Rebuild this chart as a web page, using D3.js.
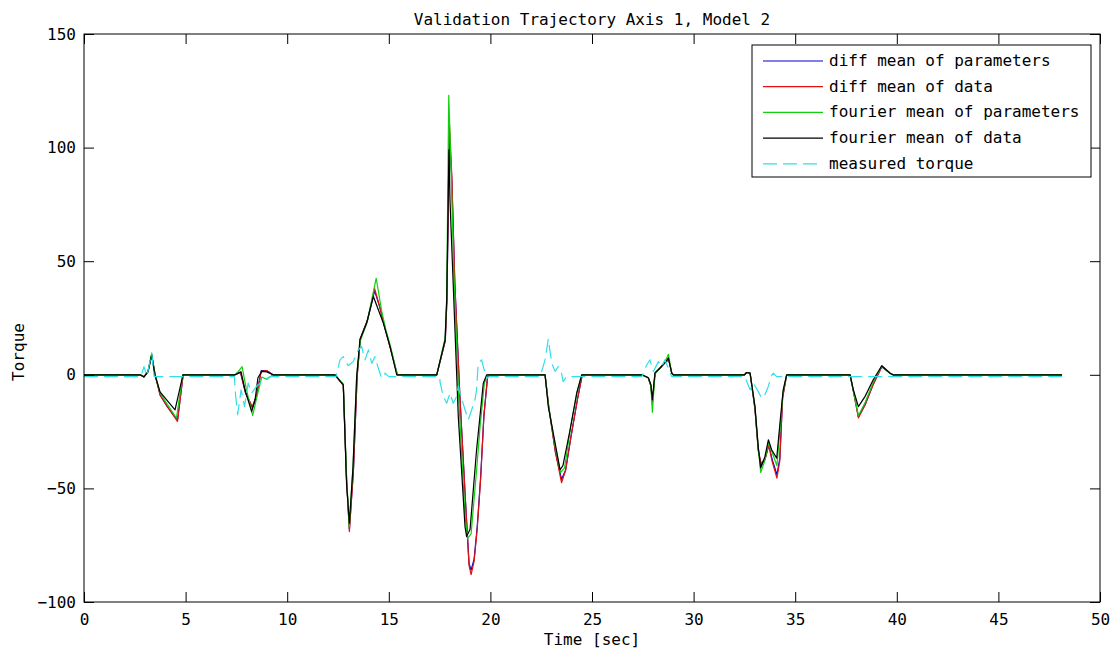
<!DOCTYPE html>
<html>
<head>
<meta charset="utf-8">
<script src="https://cdn.jsdelivr.net/npm/d3@7"></script>
<style>
  html, body { margin: 0; padding: 0; background: #ffffff; }
  svg { display: block; }
  text { font-family: "DejaVu Sans Mono", "Liberation Mono", monospace; fill: #000; }
</style>
</head>
<body>
<svg id="chart" width="1118" height="661"></svg>
<script>
// Axis ticks
const xTicks = [0, 5, 10, 15, 20, 25, 30, 35, 40, 45, 50];
const yTicks = [-100, -50, 0, 50, 100, 150];

// Series: [time (s), torque]
const diffMeanParameters = [
  [0,0],[2.76,0],[2.95,-0.9],[3.15,1.5],[3.33,8.6],[3.5,0],[3.75,-9],[4.1,-14],[4.6,-20],[4.88,0],
  [7.43,0],[7.7,1.2],[7.95,-8],[8.28,-14.5],[8.5,-9],[8.72,1.8],[9.0,1.8],[9.3,0],
  [12.35,0],[12.76,-4.5],[12.92,-46],[13.06,-68],[13.26,-42],[13.44,-1],[13.6,16],[13.95,24],[14.3,37],[14.55,30],[14.8,21],[15.1,11],[15.42,0],
  [17.36,0],[17.78,15],[17.86,33],[17.98,105],[18.1,86],[18.25,40],[18.5,-10],[18.8,-60],[18.95,-83],[19.05,-86],[19.2,-81],[19.35,-67],[19.52,-45],[19.68,-18],[19.86,-1],[19.95,0],
  [22.69,0],[22.87,-14],[23.2,-34],[23.5,-46],[23.7,-42],[23.97,-27],[24.3,-10],[24.52,0],
  [27.45,0],[27.77,-1.3],[27.9,-5],[27.97,-12],[28.1,0.5],[28.35,3],[28.66,6],[28.78,6.5],[28.93,0.7],[29.0,0],
  [32.5,0],[32.61,1],[32.78,0.7],[33.02,-15],[33.18,-33],[33.32,-40],[33.52,-37],[33.7,-31],[33.86,-37],[34.1,-44],[34.24,-37],[34.38,-10],[34.58,0],
  [37.70,0],[37.86,-7],[38.11,-18.5],[38.45,-13],[38.85,-4],[39.26,3.5],[39.67,0.7],[39.81,0],[48.13,0]
];

const diffMeanData = [
  [0,0],[2.76,0],[2.95,-0.9],[3.15,1.5],[3.33,8.5],[3.5,0],[3.75,-9],[4.1,-14],[4.6,-20.5],[4.88,0],
  [7.43,0],[7.7,1],[7.95,-8],[8.28,-14],[8.5,-9],[8.72,1.5],[9.0,1.8],[9.3,0],
  [12.35,0],[12.76,-4.5],[12.92,-46],[13.06,-69],[13.26,-42],[13.44,-1],[13.6,16],[13.95,24],[14.3,38],[14.55,30],[14.8,21],[15.1,11],[15.42,0],
  [17.36,0],[17.78,15],[17.86,33],[17.98,111],[18.1,88],[18.25,40],[18.5,-10],[18.8,-60],[18.95,-84],[19.05,-88],[19.2,-82],[19.35,-68],[19.52,-46],[19.68,-18],[19.86,-1],[19.95,0],
  [22.69,0],[22.87,-14],[23.2,-34],[23.5,-47.5],[23.7,-42],[23.97,-27],[24.3,-10],[24.52,0],
  [27.45,0],[27.77,-1.3],[27.9,-5],[27.97,-13],[28.1,0.5],[28.35,3],[28.66,6],[28.78,6.5],[28.93,0.7],[29.0,0],
  [32.5,0],[32.61,1],[32.78,0.7],[33.02,-15],[33.18,-33],[33.32,-39],[33.52,-37],[33.7,-31],[33.86,-38],[34.1,-45.5],[34.24,-38],[34.38,-10],[34.58,0],
  [37.70,0],[37.86,-7],[38.11,-19],[38.45,-13],[38.85,-4],[39.26,3.5],[39.67,0.7],[39.81,0],[48.13,0]
];

const fourierMeanParameters = [
  [0,0],[2.76,0],[2.95,-0.9],[3.15,1.5],[3.33,9.5],[3.5,0],[3.75,-8],[4.1,-13],[4.55,-19],[4.86,0],
  [7.43,0],[7.6,1.5],[7.78,3.6],[7.98,-6],[8.3,-18],[8.5,-10],[8.75,-1],[9.0,-2],[9.3,0],
  [12.35,0],[12.76,-4],[12.92,-44],[13.05,-67],[13.24,-40],[13.42,-0.5],[13.6,15],[13.93,23],[14.38,42.5],[14.65,28],[14.85,20],[15.1,12],[15.42,0],
  [17.36,0],[17.77,16],[17.85,34],[17.95,123],[18.05,95],[18.2,45],[18.45,-12],[18.75,-62],[18.88,-72],[19.05,-70],[19.32,-42],[19.5,-22],[19.7,-4],[19.85,0],
  [22.69,0],[22.85,-13],[23.2,-32],[23.45,-43],[23.65,-41],[23.95,-23],[24.28,-7],[24.5,0],
  [27.45,0],[27.77,-1.3],[27.9,-5],[27.97,-16.5],[28.1,0.5],[28.35,3],[28.66,7],[28.76,9],[28.92,0.7],[29.0,0],
  [32.5,0],[32.61,1],[32.78,0.7],[33.02,-14],[33.18,-32],[33.3,-43],[33.5,-38],[33.68,-30],[33.86,-34],[34.1,-40],[34.25,-24],[34.41,-7],[34.58,0],
  [37.70,0],[37.86,-7],[38.11,-18],[38.45,-12],[38.85,-3],[39.26,4],[39.67,0.7],[39.81,0],[48.13,0]
];

const fourierMeanData = [
  [0,0],[2.76,0],[2.95,-0.9],[3.15,1.3],[3.33,8.8],[3.49,0],[3.74,-7.5],[4.48,-15.4],[4.87,0],
  [7.43,0],[7.73,1.3],[7.92,-6.6],[8.25,-16.2],[8.42,-11],[8.56,-1.3],[8.75,1.5],[9.0,1.3],[9.3,0],
  [12.35,0],[12.76,-4.4],[12.92,-47.7],[13.06,-65.3],[13.24,-40.4],[13.42,-0.7],[13.58,15.4],[13.91,22.8],[14.24,34.5],[14.73,22.8],[15.06,12.5],[15.39,0],
  [17.36,0],[17.77,15.4],[17.85,33],[17.96,99],[18.01,77],[18.42,-18.4],[18.75,-66.8],[18.83,-71.2],[19.0,-68],[19.32,-33],[19.65,-3.7],[19.82,0],
  [22.69,0],[22.85,-14],[23.43,-41.8],[23.57,-40],[23.92,-24.2],[24.25,-8],[24.49,0],
  [27.45,0],[27.77,-1.3],[27.9,-4.4],[27.97,-11],[28.1,0.9],[28.35,3],[28.64,5.8],[28.76,7.5],[28.92,0.7],[29.0,0],
  [32.5,0],[32.61,1],[32.78,0.7],[33.02,-14],[33.18,-31.6],[33.3,-41],[33.51,-36],[33.68,-28.6],[33.84,-33],[34.09,-36.7],[34.25,-21.3],[34.41,-6.6],[34.58,0],
  [37.70,0],[37.86,-6.6],[38.11,-14],[38.44,-9.5],[38.84,-2.2],[39.26,4],[39.67,0.7],[39.81,0],[48.13,0]
];

const measuredTorque = [
  [0,-0.8],[2.8,-0.8],[2.95,3.6],[3.1,-0.5],[3.33,9.7],[3.45,-0.8],
  [7.4,-0.8],[7.45,-8],[7.56,-17.6],[7.73,-6.6],[7.9,-14],[8.08,-3.7],[8.25,-8],[8.5,-5],[8.83,-2.5],[9.15,-0.8],
  [12.4,-0.8],[12.6,6.6],[12.76,8],[13.0,4],[13.25,5.8],[13.5,11],[13.66,12.5],[13.83,6.6],[14.0,11],[14.16,5],[14.32,8],[14.48,3],[14.65,-1.5],[14.81,0.7],[15.0,-0.8],
  [17.5,-0.8],[17.53,-3.7],[17.68,-9.5],[17.85,-12.5],[18.01,-8],[18.17,-12.5],[18.34,-9.5],[18.42,-5],[18.5,-8],[18.75,-15.4],[18.91,-19.8],[19.08,-15.4],[19.24,-11],[19.32,-6.6],[19.4,5],[19.57,6.6],[19.65,3.6],[19.82,-1.5],[19.95,-0.8],
  [22.45,-0.8],[22.69,6.6],[22.85,15.8],[23.02,5],[23.18,1.5],[23.34,3.6],[23.5,0.7],[23.58,-3],[23.75,-0.8],
  [27.45,-0.8],[27.7,4.4],[27.85,6.6],[28.02,1.5],[28.27,5.8],[28.43,3.6],[28.59,6.6],[28.75,3],[28.92,-0.8],
  [32.52,-0.8],[32.78,-6.6],[32.94,-3.7],[33.18,-7.3],[33.35,-10.3],[33.51,-8.8],[33.68,-5],[33.84,-0.2],[33.92,0.7],[34.09,-0.8],[48.13,-0.8]
];

const seriesNames = [
  "diff mean of parameters",
  "diff mean of data",
  "fourier mean of parameters",
  "fourier mean of data",
  "measured torque"
];
const seriesColors = ["#0000d0", "#e01010", "#10d010", "#000000", "#30e0e8"];
const seriesData = [diffMeanParameters, diffMeanData, fourierMeanParameters, fourierMeanData, measuredTorque];
const seriesDash = [null, null, null, null, "14,6"];

const svg = d3.select("#chart");
const W = 1118, H = 661;
const margin = { left: 84, right: 18, top: 34, bottom: 59 };
const x0 = margin.left, x1 = W - margin.right;
const y0 = margin.top, y1 = H - margin.bottom;

const x = d3.scaleLinear().domain([0, 50]).range([x0, x1]);
const y = d3.scaleLinear().domain([-100, 150]).range([y1, y0]);

const tickLen = 10;

// Lines, clipped to the axes box
svg.append("clipPath").attr("id", "plotClip")
  .append("rect").attr("x", x0).attr("y", y0).attr("width", x1 - x0).attr("height", y1 - y0);

const line = d3.line().x(d => x(d[0])).y(d => y(d[1]));
const plot = svg.append("g").attr("clip-path", "url(#plotClip)");
seriesData.forEach((data, i) => {
  plot.append("path")
    .datum(data)
    .attr("d", line)
    .attr("fill", "none")
    .attr("stroke", seriesColors[i])
    .attr("stroke-width", 1.2)
    .attr("stroke-linejoin", "round")
    .attr("stroke-dasharray", seriesDash[i]);
});

// Axes: ticks point inward on all four sides
const axisBottom = d3.axisBottom(x).tickValues(xTicks).tickSize(-tickLen).tickPadding(12).tickFormat(d3.format("d"));
const axisTop = d3.axisTop(x).tickValues(xTicks).tickSize(-tickLen).tickFormat("");
const axisLeft = d3.axisLeft(y).tickValues(yTicks).tickSize(-tickLen).tickPadding(8).tickFormat(d3.format("d"));
const axisRight = d3.axisRight(y).tickValues(yTicks).tickSize(-tickLen).tickFormat("");

function styleAxis(g) {
  g.select(".domain").remove();
  g.selectAll(".tick line").attr("stroke", "#000").attr("stroke-width", 1);
  g.selectAll(".tick text")
    .attr("font-family", "DejaVu Sans Mono, monospace")
    .attr("font-size", 16)
    .attr("fill", "#000");
}

svg.append("g").attr("transform", `translate(0,${y1})`).call(axisBottom).call(styleAxis);
svg.append("g").attr("transform", `translate(0,${y0})`).call(axisTop).call(styleAxis);
svg.append("g").attr("transform", `translate(${x0},0)`).call(axisLeft).call(styleAxis);
svg.append("g").attr("transform", `translate(${x1},0)`).call(axisRight).call(styleAxis);

// Axes box
svg.append("rect")
  .attr("x", x0).attr("y", y0)
  .attr("width", x1 - x0).attr("height", y1 - y0)
  .attr("fill", "none").attr("stroke", "#000").attr("stroke-width", 1);

// Title and axis labels
svg.append("text")
  .attr("x", (x0 + x1) / 2).attr("y", 25)
  .attr("text-anchor", "middle").attr("font-size", 16)
  .text("Validation Trajectory Axis 1, Model 2");

svg.append("text")
  .attr("x", (x0 + x1) / 2).attr("y", 645)
  .attr("text-anchor", "middle").attr("font-size", 16)
  .text("Time [sec]");

svg.append("text")
  .attr("transform", `translate(24,352) rotate(-90)`)
  .attr("text-anchor", "middle").attr("font-size", 16)
  .text("Torque");

// Legend
const legend = svg.append("g");
const lgX = 752, lgY = 45, lgW = 339, lgH = 132;
legend.append("rect")
  .attr("x", lgX).attr("y", lgY).attr("width", lgW).attr("height", lgH)
  .attr("fill", "#fff").attr("stroke", "#000").attr("stroke-width", 1);
seriesNames.forEach((name, i) => {
  const ry = lgY + 16 + i * 25.7;
  legend.append("line")
    .attr("x1", lgX + 11).attr("x2", lgX + 71)
    .attr("y1", ry).attr("y2", ry)
    .attr("stroke", seriesColors[i]).attr("stroke-width", 1.2)
    .attr("stroke-dasharray", seriesDash[i]);
  legend.append("text")
    .attr("x", lgX + 77).attr("y", ry + 5)
    .attr("font-size", 16)
    .text(name);
});
</script>
</body>
</html>
